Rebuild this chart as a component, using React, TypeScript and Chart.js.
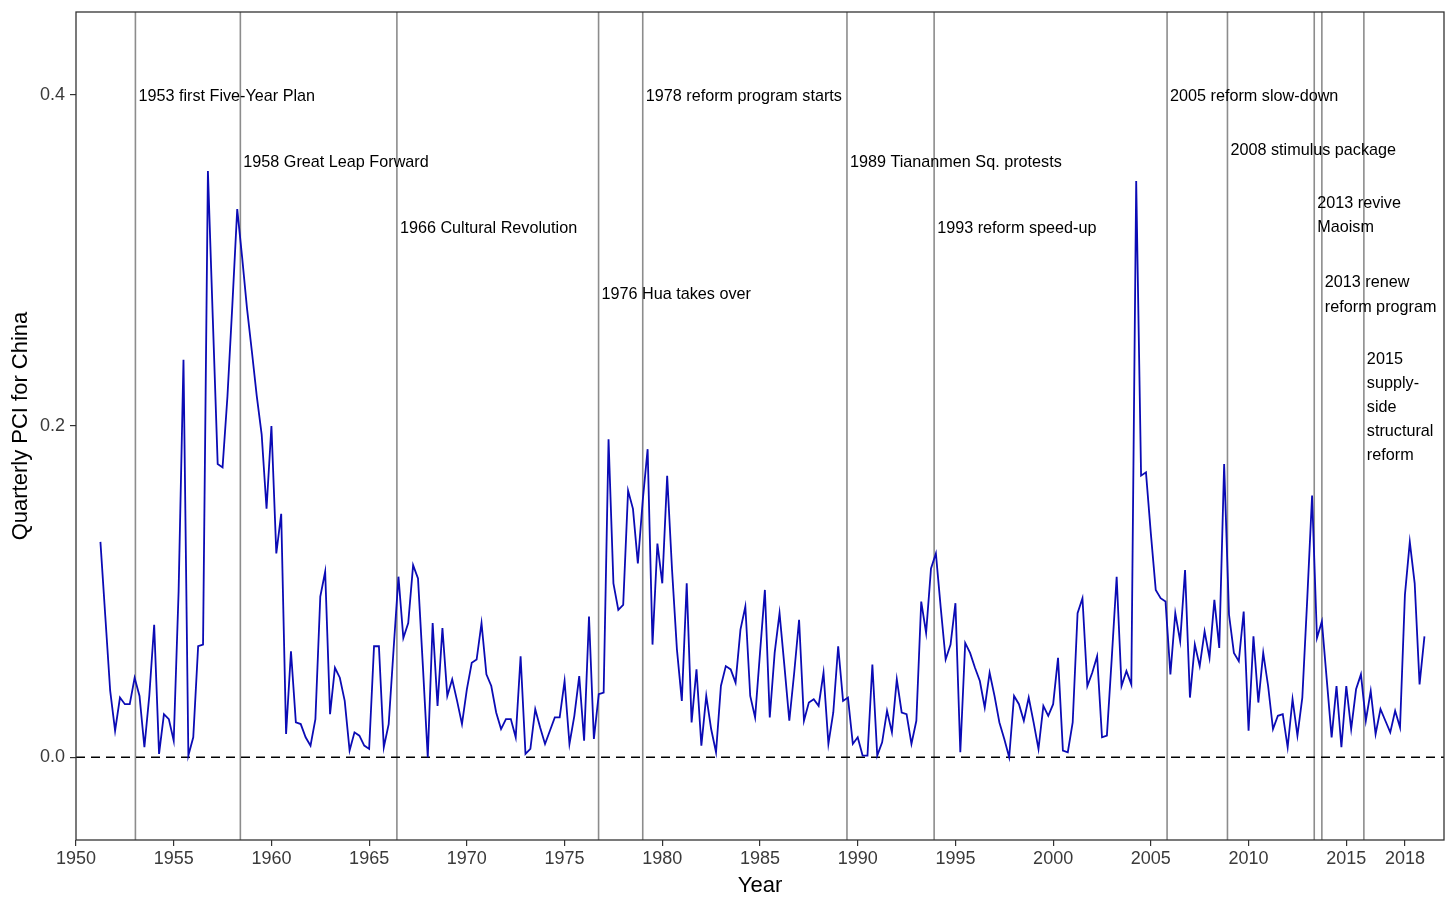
import React, { useEffect, useRef } from "react";
import { Chart, registerables } from "chart.js";

Chart.register(...registerables);

// Quarterly series: first observation at 1951.25, one value per quarter
const FIRST_QUARTER = 1951.25;
const QUARTER_STEP = 0.25;
const pciValues: number[] = [
  /* 1951 */ 0.130, 0.085, 0.040,
  /* 1952 */ 0.016, 0.036, 0.032, 0.032,
  /* 1953 */ 0.048, 0.037, 0.006, 0.037,
  /* 1954 */ 0.080, 0.002, 0.026, 0.023,
  /* 1955 */ 0.010, 0.100, 0.240, 0.001,
  /* 1956 */ 0.012, 0.067, 0.068, 0.354,
  /* 1957 */ 0.265, 0.177, 0.175, 0.218,
  /* 1958 */ 0.273, 0.331, 0.302, 0.271,
  /* 1959 */ 0.245, 0.218, 0.195, 0.150,
  /* 1960 */ 0.200, 0.123, 0.147, 0.014,
  /* 1961 */ 0.064, 0.021, 0.020, 0.012,
  /* 1962 */ 0.007, 0.023, 0.097, 0.112,
  /* 1963 */ 0.026, 0.054, 0.048, 0.034,
  /* 1964 */ 0.004, 0.015, 0.013, 0.007,
  /* 1965 */ 0.005, 0.067, 0.067, 0.006,
  /* 1966 */ 0.020, 0.065, 0.109, 0.072,
  /* 1967 */ 0.081, 0.116, 0.108, 0.055,
  /* 1968 */ 0.000, 0.081, 0.031, 0.078,
  /* 1969 */ 0.037, 0.047, 0.034, 0.020,
  /* 1970 */ 0.041, 0.057, 0.059, 0.081,
  /* 1971 */ 0.050, 0.043, 0.027, 0.017,
  /* 1972 */ 0.023, 0.023, 0.012, 0.061,
  /* 1973 */ 0.002, 0.005, 0.029, 0.018,
  /* 1974 */ 0.008, 0.016, 0.024, 0.024,
  /* 1975 */ 0.046, 0.008, 0.025, 0.049,
  /* 1976 */ 0.010, 0.085, 0.011, 0.038,
  /* 1977 */ 0.039, 0.192, 0.105, 0.089,
  /* 1978 */ 0.092, 0.161, 0.150, 0.117,
  /* 1979 */ 0.155, 0.186, 0.068, 0.129,
  /* 1980 */ 0.105, 0.170, 0.113, 0.065,
  /* 1981 */ 0.034, 0.105, 0.021, 0.053,
  /* 1982 */ 0.007, 0.037, 0.017, 0.003,
  /* 1983 */ 0.043, 0.055, 0.053, 0.045,
  /* 1984 */ 0.077, 0.091, 0.037, 0.024,
  /* 1985 */ 0.063, 0.101, 0.024, 0.063,
  /* 1986 */ 0.087, 0.055, 0.022, 0.051,
  /* 1987 */ 0.083, 0.022, 0.033, 0.035,
  /* 1988 */ 0.031, 0.051, 0.008, 0.027,
  /* 1989 */ 0.067, 0.034, 0.036, 0.008,
  /* 1990 */ 0.012, 0.001, 0.001, 0.056,
  /* 1991 */ 0.001, 0.009, 0.028, 0.015,
  /* 1992 */ 0.047, 0.027, 0.026, 0.008,
  /* 1993 */ 0.022, 0.094, 0.075, 0.114,
  /* 1994 */ 0.123, 0.090, 0.059, 0.068,
  /* 1995 */ 0.093, 0.003, 0.069, 0.063,
  /* 1996 */ 0.054, 0.046, 0.030, 0.051,
  /* 1997 */ 0.037, 0.021, 0.011, 0.000,
  /* 1998 */ 0.037, 0.032, 0.022, 0.036,
  /* 1999 */ 0.021, 0.005, 0.031, 0.025,
  /* 2000 */ 0.032, 0.060, 0.004, 0.003,
  /* 2001 */ 0.021, 0.087, 0.096, 0.043,
  /* 2002 */ 0.051, 0.061, 0.012, 0.013,
  /* 2003 */ 0.060, 0.109, 0.043, 0.052,
  /* 2004 */ 0.044, 0.348, 0.170, 0.172,
  /* 2005 */ 0.135, 0.101, 0.096, 0.094,
  /* 2006 */ 0.050, 0.087, 0.070, 0.113,
  /* 2007 */ 0.036, 0.068, 0.055, 0.076,
  /* 2008 */ 0.060, 0.095, 0.066, 0.177,
  /* 2009 */ 0.086, 0.063, 0.058, 0.088,
  /* 2010 */ 0.016, 0.073, 0.033, 0.063,
  /* 2011 */ 0.043, 0.017, 0.025, 0.026,
  /* 2012 */ 0.006, 0.035, 0.013, 0.036,
  /* 2013 */ 0.095, 0.158, 0.072, 0.082,
  /* 2014 */ 0.047, 0.012, 0.043, 0.006,
  /* 2015 */ 0.043, 0.017, 0.041, 0.050,
  /* 2016 */ 0.022, 0.040, 0.014, 0.029,
  /* 2017 */ 0.022, 0.015, 0.028, 0.018,
  /* 2018 */ 0.098, 0.130, 0.105, 0.044,
  /* 2019 */ 0.073,
];

const eventYears: number[] = [
  1953.04, 1958.41, 1966.42, 1976.74, 1979.0, 1989.45,
  1993.91, 2005.83, 2008.92, 2013.36, 2013.75, 2015.9,
];
const eventLabels: string[][] = [
  ["1953 first Five-Year Plan"],
  ["1958 Great Leap Forward"],
  ["1966 Cultural Revolution"],
  ["1976 Hua takes over"],
  ["1978 reform program starts"],
  ["1989 Tiananmen Sq. protests"],
  ["1993 reform speed-up"],
  ["2005 reform slow-down"],
  ["2008 stimulus package"],
  ["2013 revive", "Maoism"],
  ["2013 renew", "reform program"],
  ["2015", "supply-", "side", "structural", "reform"],
];
const eventLabelY: number[] = [
  0.4, 0.36, 0.32, 0.28, 0.4, 0.36, 0.32, 0.4, 0.3675, 0.328, 0.28, 0.212,
];

const xTickValues: number[] = [
  1950, 1955, 1960, 1965, 1970, 1975, 1980, 1985, 1990, 1995, 2000, 2005,
  2010, 2015, 2018,
];
const yTickValues: number[] = [0, 0.2, 0.4];
const zeroLine = 0;

const FONT = "'Liberation Sans', Arial, Helvetica, sans-serif";

const eventsPlugin = {
  id: "events",
  beforeDatasetsDraw(chart: any) {
    const { ctx, chartArea, scales } = chart;
    const { left, right, top, bottom } = chartArea;
    ctx.save();
    ctx.beginPath();
    ctx.rect(left, top, right - left, bottom - top);
    ctx.clip();
    ctx.strokeStyle = "#8C8C8C";
    ctx.lineWidth = 1.6;
    eventYears.forEach((ev) => {
      const px = scales.x.getPixelForValue(ev);
      ctx.beginPath();
      ctx.moveTo(px, top);
      ctx.lineTo(px, bottom);
      ctx.stroke();
    });
    const y0 = scales.y.getPixelForValue(zeroLine);
    ctx.strokeStyle = "#000000";
    ctx.lineWidth = 1.6;
    ctx.setLineDash([9, 6]);
    ctx.beginPath();
    ctx.moveTo(left, y0);
    ctx.lineTo(right, y0);
    ctx.stroke();
    ctx.restore();
  },
  afterDatasetsDraw(chart: any) {
    const { ctx, chartArea, scales } = chart;
    const { left, right, top, bottom } = chartArea;
    ctx.save();
    ctx.fillStyle = "#000000";
    ctx.font = `16.2px ${FONT}`;
    ctx.textAlign = "left";
    ctx.textBaseline = "middle";
    const lineH = 24.2;
    eventYears.forEach((ev, i) => {
      const px = scales.x.getPixelForValue(ev) + 3;
      const py = scales.y.getPixelForValue(eventLabelY[i]) + 1.5;
      const lines = eventLabels[i];
      const start = py - ((lines.length - 1) * lineH) / 2;
      lines.forEach((t, j) => ctx.fillText(t, px, start + j * lineH));
    });
    ctx.strokeStyle = "#333333";
    ctx.lineWidth = 1.3;
    ctx.strokeRect(left, top, right - left, bottom - top);
    ctx.restore();
  },
};

export default function App() {
  const ref = useRef<HTMLCanvasElement | null>(null);

  useEffect(() => {
    document.body.style.margin = "0";
    document.body.style.background = "#ffffff";
    if (!ref.current) return;
    const points = pciValues.map((v, i) => ({
      x: FIRST_QUARTER + i * QUARTER_STEP,
      y: v,
    }));
    const chart = new Chart(ref.current, {
      type: "line",
      data: {
        datasets: [
          {
            data: points,
            borderColor: "#0B0BB5",
            borderWidth: 1.8,
            pointRadius: 0,
            tension: 0,
            fill: false,
          },
        ],
      },
      options: {
        animation: false,
        responsive: false,
        maintainAspectRatio: false,
        layout: { padding: { top: 12, right: 12, left: 0, bottom: 0 } },
        plugins: {
          legend: { display: false },
          tooltip: { enabled: false },
        },
        scales: {
          x: {
            type: "linear",
            min: 1950,
            max: 2020,
            afterBuildTicks: (s: any) => {
              s.ticks = xTickValues.map((v) => ({ value: v }));
            },
            afterFit: (s: any) => {
              s.height = 70;
              s.paddingLeft = 0;
              s.paddingRight = 0;
            },
            ticks: {
              autoSkip: false,
              maxRotation: 0,
              padding: 2,
              color: "#3A3A3A",
              font: { size: 18, family: FONT },
              callback: (v: any) => String(v),
            },
            grid: {
              drawOnChartArea: false,
              drawTicks: true,
              tickLength: 6,
              color: "#333333",
              lineWidth: 1.2,
            },
            border: { display: false },
            title: {
              display: true,
              text: "Year",
              color: "#000000",
              font: { size: 22, family: FONT },
              padding: { top: 0, bottom: 11 },
            },
          },
          y: {
            type: "linear",
            min: -0.05,
            max: 0.45,
            afterBuildTicks: (s: any) => {
              s.ticks = yTickValues.map((v) => ({ value: v }));
            },
            afterFit: (s: any) => {
              s.width = 76;
              s.paddingTop = 0;
              s.paddingBottom = 0;
            },
            ticks: {
              padding: 5,
              color: "#3A3A3A",
              font: { size: 18, family: FONT },
              callback: (v: any) => Number(v).toFixed(1),
            },
            grid: {
              drawOnChartArea: false,
              drawTicks: true,
              tickLength: 6,
              color: "#333333",
              lineWidth: 1.2,
            },
            border: { display: false },
            title: {
              display: true,
              text: "Quarterly PCI for China",
              color: "#000000",
              font: { size: 22, family: FONT },
              padding: { top: 8, bottom: 0 },
            },
          },
        },
      },
      plugins: [eventsPlugin],
    } as any);
    return () => chart.destroy();
  }, []);

  return (
    <div style={{ width: 1456, height: 910, background: "#ffffff" }}>
      <canvas
        ref={ref}
        width={1456}
        height={910}
        style={{ display: "block", width: 1456, height: 910 }}
      />
    </div>
  );
}
